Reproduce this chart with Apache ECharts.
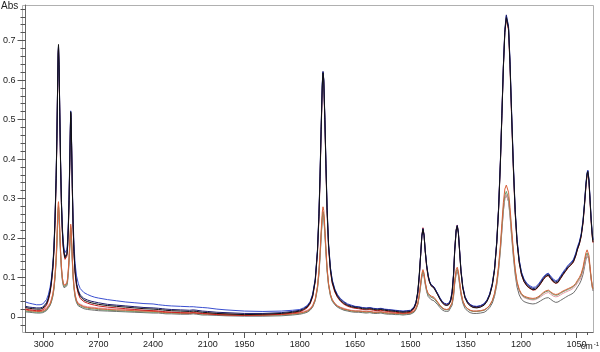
<!DOCTYPE html>
<html>
<head>
<meta charset="utf-8">
<script src="https://cdn.jsdelivr.net/npm/echarts@6.0.0/dist/echarts.min.js"></script>
<style>
html,body{margin:0;padding:0;background:#fff;}
#chart{width:600px;height:352px;}
</style>
</head>
<body>
<div id="chart"></div>
<script>
// Wavenumbers (cm-1), shared by all spectra
const wn = [
3100,3080,3060,3040,3020,3005,2995,2985,2975,2965,
2958,2950,2944,2938,2932,2928,2924,2921,2919,2916,
2912,2908,2903,2898,2893,2888,2883,2878,2873,2869,
2865,2861,2857,2854,2852,2850,2847,2843,2839,2834,
2828,2820,2810,2800,2780,2760,2740,2720,2700,2650,
2600,2550,2500,2450,2400,2370,2360,2350,2340,2330,
2300,2250,2200,2180,2170,2160,2150,2130,2100,2050,
2000,1950,1900,1850,1820,1800,1790,1780,1772,1765,
1758,1752,1748,1745,1742,1739,1737,1735,1732,1729,
1726,1722,1717,1712,1705,1698,1690,1680,1670,1660,
1650,1640,1630,1620,1610,1600,1590,1580,1570,1560,
1550,1540,1530,1520,1510,1500,1495,1490,1485,1480,
1476,1472,1469,1466,1463,1460,1456,1452,1448,1444,
1440,1436,1432,1426,1420,1414,1408,1402,1396,1391,
1387,1383,1380,1376,1373,1370,1367,1363,1358,1352,
1345,1338,1330,1320,1310,1300,1292,1285,1278,1272,
1266,1261,1256,1252,1248,1244,1240,1237,1234,1230,
1226,1221,1216,1211,1205,1199,1192,1184,1176,1168,
1161,1154,1147,1140,1133,1126,1120,1113,1106,1100,
1093,1086,1079,1072,1065,1058,1052,1047,1042,1037,
1032,1028,1024,1021,1019,1016,1013,1010,1007,1005];

const absBlack = [
0.024,0.022,0.021,0.020,0.020,0.022,0.026,0.033,0.045,0.065,
0.088,0.125,0.170,0.245,0.350,0.450,0.580,0.670,0.690,0.640,
0.520,0.400,0.290,0.220,0.180,0.160,0.150,0.148,0.158,0.180,
0.225,0.295,0.395,0.475,0.520,0.505,0.435,0.325,0.235,0.165,
0.115,0.082,0.063,0.052,0.043,0.039,0.036,0.034,0.032,0.029,
0.027,0.025,0.023,0.021,0.020,0.019,0.022,0.018,0.021,0.017,
0.016,0.015,0.014,0.015,0.020,0.014,0.017,0.012,0.011,0.009,
0.008,0.006,0.007,0.009,0.012,0.015,0.019,0.025,0.035,0.053,
0.092,0.165,0.255,0.355,0.475,0.585,0.618,0.600,0.500,0.380,
0.270,0.180,0.120,0.088,0.066,0.052,0.042,0.034,0.029,0.026,
0.024,0.023,0.021,0.020,0.021,0.019,0.018,0.019,0.017,0.016,
0.015,0.014,0.013,0.012,0.013,0.014,0.017,0.023,0.035,0.065,
0.108,0.160,0.204,0.222,0.206,0.168,0.130,0.104,0.088,0.079,
0.075,0.073,0.068,0.056,0.045,0.036,0.031,0.029,0.031,0.040,
0.060,0.105,0.165,0.218,0.230,0.212,0.170,0.115,0.073,0.048,
0.035,0.028,0.024,0.023,0.025,0.030,0.040,0.055,0.080,0.118,
0.185,0.270,0.390,0.510,0.630,0.720,0.758,0.762,0.730,0.640,
0.520,0.380,0.265,0.190,0.138,0.108,0.090,0.079,0.073,0.069,
0.070,0.076,0.085,0.095,0.103,0.106,0.098,0.090,0.086,0.088,
0.098,0.108,0.117,0.126,0.132,0.140,0.155,0.172,0.185,0.205,
0.240,0.285,0.335,0.362,0.368,0.345,0.295,0.245,0.205,0.190];

const absNavy = [
0.027,0.025,0.024,0.023,0.023,0.025,0.029,0.036,0.048,0.068,
0.090,0.128,0.172,0.248,0.352,0.452,0.578,0.665,0.685,0.636,
0.518,0.398,0.290,0.222,0.183,0.163,0.153,0.151,0.161,0.183,
0.228,0.298,0.398,0.478,0.518,0.500,0.430,0.322,0.234,0.166,
0.118,0.086,0.067,0.056,0.047,0.043,0.040,0.038,0.036,0.032,
0.030,0.028,0.026,0.024,0.023,0.022,0.025,0.021,0.024,0.020,
0.019,0.018,0.017,0.018,0.022,0.017,0.019,0.015,0.014,0.012,
0.011,0.009,0.009,0.011,0.014,0.017,0.021,0.027,0.037,0.056,
0.095,0.170,0.262,0.362,0.482,0.592,0.622,0.602,0.505,0.388,
0.278,0.186,0.125,0.092,0.069,0.055,0.045,0.037,0.031,0.028,
0.026,0.025,0.023,0.022,0.023,0.021,0.020,0.021,0.019,0.018,
0.017,0.016,0.015,0.014,0.015,0.016,0.019,0.025,0.037,0.062,
0.104,0.162,0.206,0.224,0.208,0.170,0.132,0.106,0.090,0.082,
0.078,0.076,0.071,0.059,0.048,0.039,0.034,0.032,0.034,0.043,
0.064,0.110,0.170,0.221,0.232,0.215,0.174,0.119,0.077,0.051,
0.038,0.031,0.027,0.026,0.028,0.033,0.043,0.058,0.084,0.122,
0.190,0.276,0.396,0.516,0.636,0.728,0.765,0.768,0.736,0.648,
0.528,0.388,0.272,0.196,0.143,0.112,0.094,0.082,0.076,0.072,
0.073,0.079,0.088,0.098,0.106,0.109,0.101,0.093,0.089,0.091,
0.101,0.111,0.120,0.129,0.135,0.143,0.158,0.175,0.188,0.208,
0.243,0.288,0.338,0.364,0.370,0.348,0.298,0.248,0.210,0.195];

const absBlue = [
0.038,0.035,0.033,0.031,0.031,0.033,0.037,0.044,0.056,0.076,
0.098,0.135,0.180,0.255,0.358,0.456,0.582,0.668,0.688,0.640,
0.524,0.406,0.298,0.230,0.192,0.172,0.163,0.161,0.171,0.194,
0.240,0.310,0.408,0.486,0.522,0.506,0.440,0.336,0.250,0.184,
0.136,0.104,0.084,0.072,0.062,0.057,0.053,0.050,0.048,0.044,
0.041,0.038,0.036,0.034,0.033,0.031,0.034,0.030,0.032,0.029,
0.028,0.027,0.026,0.026,0.030,0.025,0.027,0.024,0.023,0.020,
0.018,0.015,0.014,0.015,0.017,0.019,0.023,0.029,0.039,0.058,
0.097,0.170,0.260,0.360,0.480,0.590,0.620,0.602,0.504,0.386,
0.276,0.186,0.126,0.094,0.071,0.057,0.047,0.039,0.033,0.030,
0.027,0.026,0.024,0.023,0.024,0.022,0.021,0.022,0.020,0.019,
0.018,0.017,0.016,0.015,0.016,0.017,0.020,0.026,0.038,0.062,
0.104,0.162,0.205,0.223,0.207,0.169,0.131,0.105,0.090,0.082,
0.078,0.076,0.071,0.059,0.048,0.040,0.035,0.033,0.035,0.044,
0.064,0.108,0.168,0.220,0.231,0.214,0.173,0.118,0.077,0.052,
0.039,0.032,0.028,0.027,0.029,0.034,0.044,0.059,0.085,0.123,
0.190,0.275,0.395,0.515,0.635,0.725,0.762,0.765,0.734,0.646,
0.526,0.386,0.271,0.196,0.144,0.114,0.096,0.085,0.079,0.075,
0.076,0.082,0.091,0.101,0.108,0.111,0.104,0.096,0.092,0.094,
0.104,0.114,0.123,0.132,0.138,0.146,0.161,0.178,0.191,0.211,
0.246,0.290,0.340,0.366,0.372,0.350,0.300,0.250,0.212,0.197];

const absRed = [
0.020,0.018,0.017,0.016,0.016,0.018,0.022,0.029,0.041,0.061,
0.084,0.121,0.166,0.240,0.345,0.445,0.575,0.662,0.682,0.632,
0.512,0.394,0.286,0.216,0.176,0.156,0.146,0.144,0.154,0.176,
0.221,0.291,0.391,0.471,0.515,0.500,0.430,0.320,0.230,0.160,
0.110,0.077,0.058,0.047,0.039,0.035,0.032,0.030,0.028,0.025,
0.023,0.021,0.019,0.017,0.016,0.015,0.018,0.014,0.017,0.013,
0.012,0.011,0.010,0.011,0.016,0.010,0.013,0.009,0.008,0.006,
0.005,0.004,0.005,0.007,0.010,0.013,0.017,0.023,0.033,0.051,
0.090,0.162,0.250,0.350,0.470,0.578,0.612,0.595,0.497,0.376,
0.266,0.177,0.117,0.085,0.063,0.050,0.040,0.032,0.027,0.024,
0.022,0.021,0.019,0.018,0.019,0.017,0.016,0.017,0.015,0.014,
0.013,0.012,0.011,0.010,0.011,0.012,0.015,0.021,0.033,0.058,
0.100,0.160,0.206,0.226,0.208,0.167,0.126,0.100,0.087,0.080,
0.077,0.074,0.069,0.057,0.046,0.037,0.032,0.030,0.032,0.041,
0.061,0.106,0.167,0.221,0.233,0.214,0.172,0.116,0.074,0.049,
0.036,0.029,0.025,0.024,0.026,0.031,0.041,0.056,0.081,0.119,
0.187,0.272,0.392,0.512,0.632,0.722,0.755,0.758,0.726,0.636,
0.516,0.377,0.263,0.189,0.137,0.107,0.089,0.078,0.072,0.068,
0.069,0.075,0.084,0.094,0.102,0.105,0.097,0.089,0.085,0.087,
0.097,0.107,0.116,0.125,0.131,0.139,0.154,0.171,0.184,0.204,
0.238,0.282,0.332,0.358,0.364,0.342,0.292,0.242,0.203,0.188];

const absOrange = [
0.018,0.016,0.015,0.014,0.014,0.015,0.017,0.020,0.025,0.033,
0.043,0.058,0.077,0.108,0.152,0.195,0.250,0.285,0.292,0.272,
0.222,0.172,0.128,0.100,0.086,0.080,0.078,0.079,0.085,0.098,
0.120,0.150,0.190,0.222,0.235,0.228,0.196,0.148,0.108,0.078,
0.056,0.041,0.033,0.029,0.026,0.024,0.023,0.022,0.021,0.019,
0.018,0.017,0.016,0.015,0.014,0.013,0.016,0.012,0.015,0.011,
0.011,0.010,0.010,0.011,0.015,0.010,0.012,0.008,0.008,0.007,
0.006,0.005,0.005,0.006,0.008,0.010,0.012,0.015,0.020,0.028,
0.045,0.078,0.118,0.163,0.218,0.265,0.279,0.270,0.226,0.173,
0.125,0.085,0.058,0.044,0.034,0.028,0.024,0.020,0.018,0.016,
0.015,0.015,0.014,0.013,0.014,0.012,0.012,0.013,0.011,0.010,
0.010,0.009,0.009,0.008,0.009,0.010,0.012,0.015,0.022,0.035,
0.058,0.088,0.110,0.120,0.111,0.090,0.070,0.060,0.055,0.053,
0.052,0.050,0.046,0.038,0.030,0.024,0.020,0.019,0.020,0.025,
0.036,0.060,0.092,0.120,0.126,0.116,0.093,0.063,0.041,0.028,
0.021,0.017,0.015,0.015,0.016,0.018,0.023,0.030,0.042,0.060,
0.090,0.130,0.183,0.237,0.290,0.324,0.334,0.332,0.316,0.278,
0.228,0.170,0.122,0.090,0.070,0.059,0.053,0.050,0.048,0.047,
0.048,0.051,0.056,0.062,0.066,0.068,0.064,0.059,0.057,0.058,
0.062,0.066,0.069,0.072,0.075,0.079,0.085,0.093,0.100,0.110,
0.126,0.146,0.163,0.170,0.170,0.156,0.128,0.100,0.080,0.072];

const absGreen = [
0.015,0.014,0.013,0.012,0.012,0.013,0.015,0.018,0.023,0.031,
0.040,0.055,0.073,0.102,0.144,0.185,0.238,0.272,0.280,0.262,
0.214,0.166,0.124,0.097,0.083,0.077,0.075,0.076,0.082,0.094,
0.115,0.144,0.182,0.213,0.226,0.220,0.189,0.143,0.104,0.075,
0.054,0.039,0.031,0.027,0.024,0.022,0.021,0.020,0.019,0.017,
0.016,0.015,0.014,0.013,0.012,0.012,0.015,0.011,0.014,0.010,
0.010,0.009,0.009,0.010,0.013,0.009,0.011,0.007,0.007,0.006,
0.005,0.004,0.004,0.005,0.007,0.009,0.011,0.014,0.019,0.027,
0.043,0.074,0.112,0.155,0.208,0.252,0.266,0.258,0.216,0.166,
0.120,0.082,0.056,0.042,0.033,0.027,0.023,0.019,0.017,0.015,
0.014,0.014,0.013,0.012,0.013,0.011,0.011,0.012,0.010,0.009,
0.009,0.008,0.008,0.007,0.008,0.009,0.011,0.014,0.021,0.033,
0.055,0.084,0.105,0.115,0.107,0.087,0.068,0.056,0.052,0.050,
0.049,0.047,0.043,0.035,0.028,0.022,0.019,0.018,0.019,0.024,
0.034,0.057,0.088,0.115,0.121,0.111,0.089,0.061,0.040,0.027,
0.020,0.016,0.014,0.014,0.015,0.017,0.022,0.029,0.040,0.057,
0.086,0.124,0.175,0.226,0.276,0.308,0.318,0.316,0.301,0.265,
0.218,0.163,0.117,0.087,0.068,0.057,0.051,0.048,0.046,0.045,
0.046,0.049,0.054,0.060,0.064,0.066,0.062,0.057,0.055,0.056,
0.060,0.064,0.067,0.070,0.073,0.077,0.083,0.090,0.097,0.106,
0.121,0.140,0.156,0.162,0.162,0.149,0.123,0.097,0.078,0.070];

const absPink = [
0.021,0.019,0.018,0.017,0.017,0.018,0.020,0.023,0.028,0.036,
0.046,0.060,0.078,0.106,0.147,0.188,0.240,0.274,0.282,0.264,
0.216,0.168,0.127,0.100,0.087,0.081,0.079,0.080,0.086,0.098,
0.119,0.148,0.186,0.217,0.230,0.224,0.193,0.147,0.108,0.079,
0.058,0.043,0.035,0.031,0.028,0.026,0.025,0.024,0.023,0.021,
0.020,0.019,0.018,0.017,0.016,0.015,0.018,0.014,0.017,0.013,
0.013,0.012,0.012,0.013,0.017,0.012,0.014,0.010,0.010,0.009,
0.008,0.007,0.007,0.008,0.010,0.012,0.014,0.017,0.022,0.030,
0.046,0.077,0.115,0.157,0.209,0.253,0.267,0.259,0.218,0.168,
0.122,0.084,0.058,0.044,0.035,0.029,0.025,0.022,0.019,0.017,
0.016,0.016,0.015,0.014,0.015,0.013,0.013,0.014,0.012,0.011,
0.011,0.010,0.010,0.009,0.010,0.011,0.013,0.016,0.023,0.034,
0.055,0.083,0.104,0.113,0.105,0.086,0.068,0.057,0.052,0.050,
0.048,0.047,0.043,0.036,0.029,0.023,0.020,0.019,0.020,0.025,
0.035,0.057,0.087,0.113,0.119,0.110,0.089,0.061,0.040,0.028,
0.021,0.017,0.015,0.015,0.016,0.018,0.023,0.029,0.040,0.057,
0.085,0.122,0.172,0.222,0.270,0.301,0.310,0.308,0.294,0.259,
0.213,0.160,0.115,0.085,0.066,0.055,0.049,0.046,0.044,0.043,
0.044,0.047,0.051,0.056,0.060,0.062,0.058,0.053,0.051,0.052,
0.056,0.060,0.063,0.066,0.069,0.073,0.079,0.086,0.092,0.101,
0.116,0.134,0.150,0.156,0.157,0.145,0.120,0.095,0.076,0.068];

const absGray = [
0.013,0.012,0.011,0.010,0.010,0.011,0.013,0.016,0.021,0.029,
0.038,0.052,0.070,0.098,0.138,0.178,0.228,0.262,0.270,0.253,
0.206,0.160,0.119,0.093,0.080,0.074,0.072,0.073,0.079,0.090,
0.110,0.138,0.175,0.205,0.218,0.212,0.182,0.137,0.099,0.071,
0.050,0.036,0.028,0.024,0.021,0.019,0.018,0.017,0.016,0.015,
0.014,0.013,0.012,0.011,0.010,0.010,0.013,0.009,0.012,0.008,
0.008,0.007,0.007,0.008,0.011,0.007,0.009,0.005,0.005,0.004,
0.003,0.002,0.002,0.003,0.005,0.007,0.009,0.012,0.017,0.025,
0.041,0.071,0.108,0.150,0.202,0.246,0.260,0.252,0.211,0.162,
0.117,0.080,0.054,0.040,0.031,0.025,0.021,0.017,0.015,0.013,
0.012,0.012,0.011,0.010,0.011,0.009,0.009,0.010,0.008,0.007,
0.007,0.006,0.006,0.005,0.006,0.007,0.009,0.012,0.019,0.031,
0.052,0.080,0.101,0.110,0.102,0.083,0.064,0.052,0.047,0.044,
0.042,0.041,0.038,0.031,0.024,0.018,0.015,0.014,0.015,0.020,
0.030,0.052,0.083,0.109,0.115,0.106,0.084,0.056,0.035,0.022,
0.015,0.011,0.009,0.009,0.010,0.012,0.017,0.024,0.035,0.052,
0.080,0.118,0.168,0.219,0.268,0.300,0.309,0.307,0.292,0.256,
0.208,0.153,0.107,0.076,0.056,0.045,0.039,0.036,0.034,0.033,
0.034,0.037,0.041,0.045,0.048,0.049,0.045,0.040,0.037,0.038,
0.042,0.046,0.050,0.054,0.057,0.061,0.068,0.076,0.083,0.093,
0.108,0.127,0.146,0.155,0.157,0.146,0.121,0.096,0.075,0.066];

// Tick labels
const xLabelsHigh = [3000, 2700, 2400, 2100];
const xLabelsLow = [1950, 1800, 1650, 1500, 1350, 1200, 1050];
const yLabels = [0, 0.1, 0.2, 0.3, 0.4, 0.5, 0.6, 0.7];

const spectra = [
  { name: 'S8', vals: absGray,   color: '#6e6e6e' },
  { name: 'S7', vals: absPink,   color: '#e69aa8' },
  { name: 'S6', vals: absGreen,  color: '#6d9a6d' },
  { name: 'S5', vals: absOrange, color: '#d8603a' },
  { name: 'S4', vals: absRed,    color: '#c8201e' },
  { name: 'S3', vals: absBlue,   color: '#3a4fd0' },
  { name: 'S2', vals: absNavy,   color: '#1c1c6e' },
  { name: 'S1', vals: absBlack,  color: '#111111' }
];
spectra.forEach(s => { if (s.vals.length !== wn.length) console.error('length mismatch', s.name, s.vals.length, wn.length); });

function pairs(vals, lo, hi) {
  return wn.map((w, i) => [w, vals[i]]).filter(p => p[0] >= lo && p[0] <= hi);
}

const BREAK = 2000, WMAX = 3100, WMIN = 1005;
const YMIN = -0.038, YMAX = 0.79;

const minorHigh = []; for (let w = 3060; w > BREAK; w -= 60) minorHigh.push(w);
const minorLow = []; for (let w = 1980; w >= 1020; w -= 30) minorLow.push(w);
const minorY = []; for (let k = -1; k <= 39; k++) minorY.push(+(k * 0.02).toFixed(2));

const FONT = 'Liberation Sans, Arial, sans-serif';
const labelStyle = { color: '#222', fontSize: 9, fontFamily: FONT };

function xAxisPair(grid, min, max, labels, minors) {
  return [
    { type: 'value', gridIndex: grid, inverse: true, min: min, max: max,
      axisLine: { show: true, onZero: false, lineStyle: { color: '#666' } },
      axisTick: { show: true, length: 6, customValues: labels, lineStyle: { color: '#555' } },
      axisLabel: { show: true, customValues: labels, margin: 8, formatter: v => String(v), ...labelStyle },
      splitLine: { show: false } },
    { type: 'value', gridIndex: grid, inverse: true, min: min, max: max, position: 'bottom',
      axisLine: { show: false, onZero: false },
      axisTick: { show: true, length: 3, customValues: minors, lineStyle: { color: '#555' } },
      axisLabel: { show: false },
      splitLine: { show: false } }
  ];
}

const xAxes = [
  ...xAxisPair(0, BREAK, WMAX, xLabelsHigh, minorHigh),
  ...xAxisPair(1, WMIN, BREAK, xLabelsLow, minorLow)
];

const yAxes = [
  { type: 'value', gridIndex: 0, min: YMIN, max: YMAX,
    axisLine: { show: true, onZero: false, lineStyle: { color: '#666' } },
    axisTick: { show: true, length: 8, customValues: yLabels, lineStyle: { color: '#555' } },
    axisLabel: { show: true, customValues: yLabels, margin: 10,
      formatter: v => (v === 0 ? '0' : v.toFixed(1)), ...labelStyle },
    splitLine: { show: false } },
  { type: 'value', gridIndex: 0, min: YMIN, max: YMAX, position: 'left',
    axisLine: { show: false, onZero: false },
    axisTick: { show: true, length: 5, customValues: minorY, lineStyle: { color: '#555' } },
    axisLabel: { show: false }, splitLine: { show: false } },
  { type: 'value', gridIndex: 1, min: YMIN, max: YMAX, show: false }
];

const series = [];
spectra.forEach(s => {
  series.push({ type: 'line', name: s.name, xAxisIndex: 0, yAxisIndex: 0,
    data: pairs(s.vals, BREAK, WMAX), showSymbol: false, symbol: 'none', smooth: false,
    lineStyle: { color: s.color, width: 1 }, itemStyle: { color: s.color }, silent: true });
  series.push({ type: 'line', name: s.name, xAxisIndex: 2, yAxisIndex: 2,
    data: pairs(s.vals, WMIN, BREAK), showSymbol: false, symbol: 'none', smooth: false,
    lineStyle: { color: s.color, width: 1 }, itemStyle: { color: s.color }, silent: true });
});

const chart = echarts.init(document.getElementById('chart'), null, { renderer: 'canvas' });
chart.setOption({
  animation: false,
  backgroundColor: '#ffffff',
  grid: [
    { left: 22, top: 5, width: 204, bottom: 20, containLabel: false },
    { left: 226, top: 5, right: 7, bottom: 20, containLabel: false }
  ],
  xAxis: xAxes,
  yAxis: yAxes,
  series: series,
  graphic: [
    { type: 'rect', silent: true, z: -1,
      shape: { x: 22.5, y: 5.5, width: 571, height: 327 },
      style: { fill: 'none', stroke: '#b0b0b0', lineWidth: 1 } },
    { type: 'text', left: 1, top: 1, silent: true,
      style: { text: 'Abs', fill: '#222', fontSize: 10, fontFamily: FONT } },
    { type: 'text', right: 1, bottom: 1, silent: true,
      style: { text: 'cm{s|-1}', fill: '#222', fontSize: 9, fontFamily: FONT,
        rich: { s: { fontSize: 6, fontFamily: FONT, verticalAlign: 'top', padding: [0, 0, 5, 1] } } } }
  ]
});
</script>
</body>
</html>
